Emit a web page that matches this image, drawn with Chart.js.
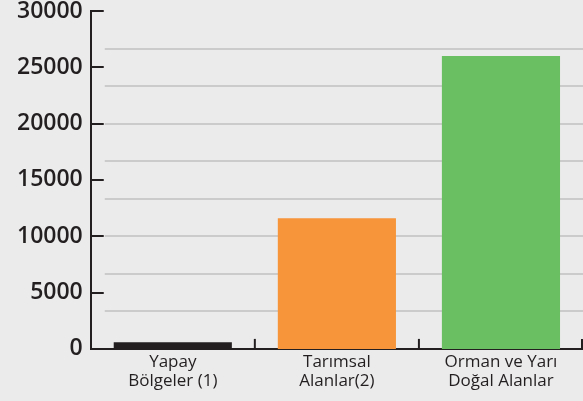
<!DOCTYPE html>
<html>
<head>
<meta charset="utf-8">
<script src="https://cdn.jsdelivr.net/npm/chart.js@4"></script>
<style>
  html, body { margin: 0; padding: 0; background: #ebebeb; }
  #wrap { width: 583px; height: 401px; position: relative; }
</style>
</head>
<body>
<div id="wrap"><canvas id="c" width="583" height="401"></canvas></div>
<script>
// Data
const categories = [["Yapay", "Bölgeler (1)"], ["Tarımsal", "Alanlar(2)"], ["Orman ve Yarı", "Doğal Alanlar"]];
const values = [600, 11600, 26000];
const barColors = ["#231f20", "#f7953a", "#6abf63"];
const yTickValues = [0, 5000, 10000, 15000, 20000, 25000, 30000];

const inkColor = "#231f20";

const inwardTicks = {
  id: "inwardTicks",
  beforeDatasetsDraw(chart) {
    const ctx = chart.ctx;
    const area = chart.chartArea;
    const g = chart.scales.yGrid;
    ctx.save();
    ctx.strokeStyle = "#cbcbcb";
    ctx.lineWidth = 2;
    g.ticks.forEach(t => {
      if (t.value <= 0 || t.value >= 30000) return;
      const y = Math.round(g.getPixelForValue(t.value));
      ctx.beginPath();
      ctx.moveTo(area.left + 14, y);
      ctx.lineTo(area.right, y);
      ctx.stroke();
    });
    ctx.restore();
  },
  afterDraw(chart) {
    const ctx = chart.ctx;
    const area = chart.chartArea;
    const ys = chart.scales.y;
    const xs = chart.scales.x;
    ctx.save();
    ctx.strokeStyle = inkColor;
    ctx.lineWidth = 2;
    ys.ticks.forEach(t => {
      const y = Math.round(ys.getPixelForValue(t.value));
      ctx.beginPath();
      ctx.moveTo(area.left, y);
      ctx.lineTo(area.left + 13, y);
      ctx.stroke();
    });
    const n = xs.ticks.length;
    for (let i = 1; i <= n; i++) {
      let x = xs.left + i * (xs.width / n);
      if (i === n) x -= 1;
      ctx.beginPath();
      ctx.moveTo(x, area.bottom);
      ctx.lineTo(x, area.bottom - 10);
      ctx.stroke();
    }
    ctx.restore();
  }
};

new Chart(document.getElementById("c"), {
  type: "bar",
  data: {
    labels: categories,
    datasets: [{
      data: values,
      backgroundColor: barColors,
      borderWidth: 0,
      barPercentage: 0.72,
      categoryPercentage: 1.0
    }]
  },
  options: {
    responsive: false,
    animation: false,
    devicePixelRatio: 1,
    layout: { padding: { left: 9, right: 0, top: 11, bottom: 7 } },
    plugins: { legend: { display: false }, tooltip: { enabled: false } },
    scales: {
      x: {
        offset: true,
        grid: { display: false, drawTicks: false },
        border: { display: true, color: inkColor, width: 2 },
        ticks: {
          color: inkColor,
          padding: 3,
          maxRotation: 0,
          autoSkip: false,
          font: { family: "'Open Sans'", size: 17, lineHeight: 1.15 }
        }
      },
      y: {
        min: 0,
        max: 30000,
        afterBuildTicks: (s) => { s.ticks = yTickValues.map(v => ({ value: v })); },
        afterFit: (s) => { s.paddingTop = 0; s.paddingBottom = 0; },
        grid: { display: false, drawTicks: false },
        border: { display: true, color: inkColor, width: 2 },
        ticks: {
          color: inkColor,
          padding: 8,
          callback: (v) => String(v),
          font: { family: "'Open Sans'", size: 23, weight: "600", lineHeight: 0.5 }
        }
      },
      yGrid: {
        type: "linear",
        axis: "y",
        position: "left",
        display: false,
        min: 0,
        max: 30000,
        afterBuildTicks: (s) => {
          const arr = [];
          for (let k = 0; k <= 9; k++) arr.push({ value: k * 30000 / 9 });
          s.ticks = arr;
        }
      }
    }
  },
  plugins: [inwardTicks]
});
</script>
</body>
</html>
